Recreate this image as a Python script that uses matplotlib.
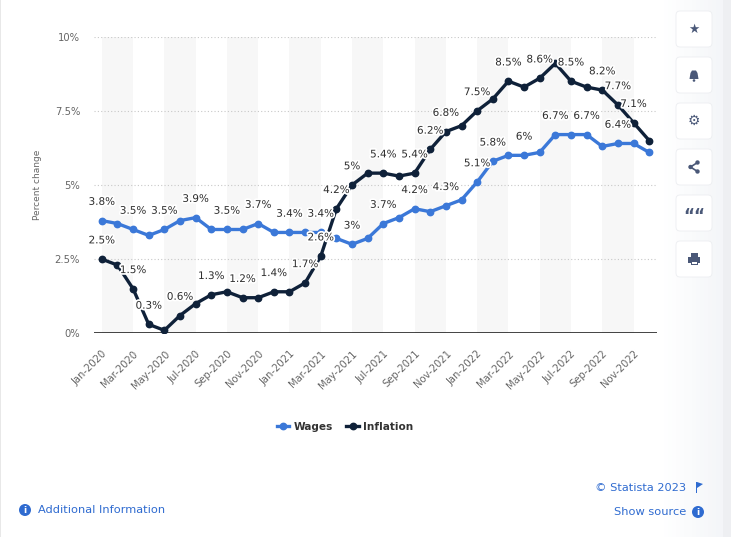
import matplotlib
matplotlib.use("Agg")
import matplotlib.pyplot as plt
import matplotlib.patheffects as pe
from matplotlib.patches import FancyBboxPatch, Circle, Rectangle, Polygon
from matplotlib.lines import Line2D

# ---- data (percent change, monthly Jan 2020 - Dec 2022) ----
months = ["Jan", "Feb", "Mar", "Apr", "May", "Jun",
          "Jul", "Aug", "Sep", "Oct", "Nov", "Dec"]
years = [2020, 2021, 2022]
categories = [m + "-" + str(y) for y in years for m in months]

wages = [3.8, 3.7, 3.5, 3.3, 3.5, 3.8, 3.9, 3.5, 3.5, 3.5, 3.7, 3.4,
         3.4, 3.4, 3.4, 3.2, 3.0, 3.2, 3.7, 3.9, 4.2, 4.1, 4.3, 4.5,
         5.1, 5.8, 6.0, 6.0, 6.1, 6.7, 6.7, 6.7, 6.3, 6.4, 6.4, 6.1]
inflation = [2.5, 2.3, 1.5, 0.3, 0.1, 0.6, 1.0, 1.3, 1.4, 1.2, 1.2, 1.4,
             1.4, 1.7, 2.6, 4.2, 5.0, 5.4, 5.4, 5.3, 5.4, 6.2, 6.8, 7.0,
             7.5, 7.9, 8.5, 8.3, 8.6, 9.1, 8.5, 8.3, 8.2, 7.7, 7.1, 6.5]

# which points carry a visible value label
wage_label_idx = [0, 2, 4, 6, 8, 10, 12, 14, 16, 18, 20, 22, 24, 25, 27, 29, 31, 33]
infl_label_idx = [0, 2, 3, 5, 7, 9, 11, 13, 14, 15, 16, 18, 20, 21, 22, 24,
                  26, 28, 30, 32, 33, 34]

yticks = [0, 2.5, 5, 7.5, 10]
ytick_labels = ["0%", "2.5%", "5%", "7.5%", "10%"]

WAGE_COL = "#3b78d8"
INFL_COL = "#0f2139"
W, H = 731, 537


def fx(px):
    return px / W


def fy(py):
    return 1 - py / H


fig = plt.figure(figsize=(W / 100, H / 100), dpi=100)
fig.patch.set_facecolor("white")

# right hand side panel
bg = fig.add_axes([0, 0, 1, 1], zorder=-5)
bg.set_xlim(0, W)
bg.set_ylim(H, 0)
bg.axis("off")
for k in range(16):
    x0 = 660 + k * 4
    bg.add_patch(Rectangle((x0, 0), 4, H, color=(1 - k * 0.003, 1 - k * 0.0025, 1 - k * 0.0018),
                           lw=0))
bg.add_patch(Rectangle((723, 0), 8, H, color="#eeeff2", lw=0))
bg.add_patch(Rectangle((0, 0), 1.2, H, color="#e8e8e8", lw=0))

ax = fig.add_axes([fx(94), fy(333.3), fx(657) - fx(94), fy(36.7) - fy(333.3)])
x = list(range(len(categories)))

# alternating shaded bands
for start in range(0, len(categories), 4):
    ax.axvspan(start, start + 2, color="#f7f7f7", lw=0, zorder=0)

for yv in yticks[1:]:
    ax.axhline(yv, color="#c8c8c8", lw=0.8, ls=(0, (1, 2)), zorder=1)
ax.axhline(0, color="#111111", lw=1.1, zorder=2)

ax.plot(x, wages, color=WAGE_COL, lw=2.4, marker="o", ms=4.6, zorder=4, label="Wages")
ax.plot(x, inflation, color=INFL_COL, lw=2.4, marker="o", ms=4.6, zorder=5, label="Inflation")

outline = [pe.withStroke(linewidth=2.5, foreground="white")]


def fmt(v):
    return ("%g" % v) + "%"


for i in wage_label_idx:
    ax.annotate(fmt(wages[i]), (i, wages[i]), xytext=(0, 13.5), textcoords="offset points",
                ha="center", va="center", fontsize=7.5, color="#2e2e2e",
                path_effects=outline, zorder=6)
for i in infl_label_idx:
    ax.annotate(fmt(inflation[i]), (i, inflation[i]), xytext=(0, 13.5), textcoords="offset points",
                ha="center", va="center", fontsize=7.5, color="#2e2e2e",
                path_effects=outline, zorder=6)

ax.set_xlim(-0.5, len(categories) - 0.5)
ax.set_ylim(0, 10)
ax.set_yticks(yticks)
ax.set_yticklabels(ytick_labels)
ax.set_xticks(x[::2])
ax.set_xticklabels(categories[::2], rotation=45, ha="right", va="top", rotation_mode="anchor")
ax.tick_params(axis="both", length=0, colors="#666666", labelsize=7.2)
ax.tick_params(axis="y", pad=10)
ax.tick_params(axis="x", pad=11)
for s in ax.spines.values():
    s.set_visible(False)
ax.set_ylabel("Percent change", fontsize=6.5, color="#666666")
ax.yaxis.set_label_coords(-0.092, 0.5)

# legend
handles = [Line2D([], [], color=WAGE_COL, lw=2.4, marker="o", ms=4.6),
           Line2D([], [], color=INFL_COL, lw=2.4, marker="o", ms=4.6)]
leg = fig.legend(handles, ["Wages", "Inflation"], loc="center",
                 bbox_to_anchor=(fx(345), fy(427)), ncol=2, frameon=False,
                 handlelength=1.2, handletextpad=0.4, columnspacing=1.3,
                 prop={"size": 7.6, "weight": "bold"})
for t in leg.get_texts():
    t.set_color("#333333")

# footer
LINK = "#2f6bd0"
fig.text(fx(38), fy(510), "Additional Information", fontsize=8.2, color=LINK,
         ha="left", va="center")
fig.text(fx(686), fy(488), "\u00a9 Statista 2023", fontsize=8.2, color=LINK,
         ha="right", va="center")
fig.text(fx(686), fy(512), "Show source", fontsize=8.2, color=LINK,
         ha="right", va="center")
for cx, cy in [(25, 510), (698, 512)]:
    bg.add_patch(Circle((cx, cy), 6, color=LINK, lw=0))
    bg.text(cx, cy + 0.5, "i", color="white", fontsize=6.5, weight="bold",
            ha="center", va="center")
bg.add_patch(Rectangle((696, 482), 1.2, 11, color=LINK, lw=0))
bg.add_patch(Polygon([(697, 482), (703, 484), (697, 488)], color=LINK, lw=0))

# toolbar buttons
ICON = "#4a5878"
tops = [11, 57, 103, 149, 195, 241]
for t in tops:
    bg.add_patch(FancyBboxPatch((676, t), 36, 36, boxstyle="round,pad=0,rounding_size=4",
                                fc="white", ec="#eceef1", lw=0.6))
cx = 694
# star
bg.text(cx, tops[0] + 18, "\u2605", fontsize=9, color=ICON, ha="center", va="center")
# bell
cy = tops[1] + 18
bg.add_patch(Polygon([(cx - 4.5, cy + 4), (cx - 3.5, cy - 2), (cx - 2, cy - 4.5),
                      (cx + 2, cy - 4.5), (cx + 3.5, cy - 2), (cx + 4.5, cy + 4)],
                     color=ICON, lw=0))
bg.add_patch(Circle((cx, cy + 5.5), 1.3, color=ICON, lw=0))
# gear
bg.text(cx, tops[2] + 18, "\u2699", fontsize=10, color=ICON, ha="center", va="center",
        weight="bold")
# share
cy = tops[3] + 18
pts = [(cx - 3.5, cy), (cx + 3.5, cy - 4.5), (cx + 3.5, cy + 4.5)]
bg.plot([pts[1][0], pts[0][0], pts[2][0]], [pts[1][1], pts[0][1], pts[2][1]],
        color=ICON, lw=1.2)
for p in pts:
    bg.add_patch(Circle(p, 2.2, color=ICON, lw=0))
# quote
bg.text(cx, tops[4] + 21, "\u201c\u201c", fontsize=12, color=ICON, ha="center",
        va="center", weight="bold")
# print
cy = tops[5] + 18
bg.add_patch(Rectangle((cx - 3.5, cy - 6), 7, 4, color=ICON, lw=0))
bg.add_patch(Rectangle((cx - 6, cy - 2.5), 12, 6, color=ICON, lw=0))
bg.add_patch(Rectangle((cx - 3.5, cy + 1.5), 7, 4.5, color=ICON, lw=0))
bg.add_patch(Rectangle((cx - 2.5, cy + 2.5), 5, 2.5, color="white", lw=0))

fig.savefig("out.png", dpi=100, facecolor="white")
